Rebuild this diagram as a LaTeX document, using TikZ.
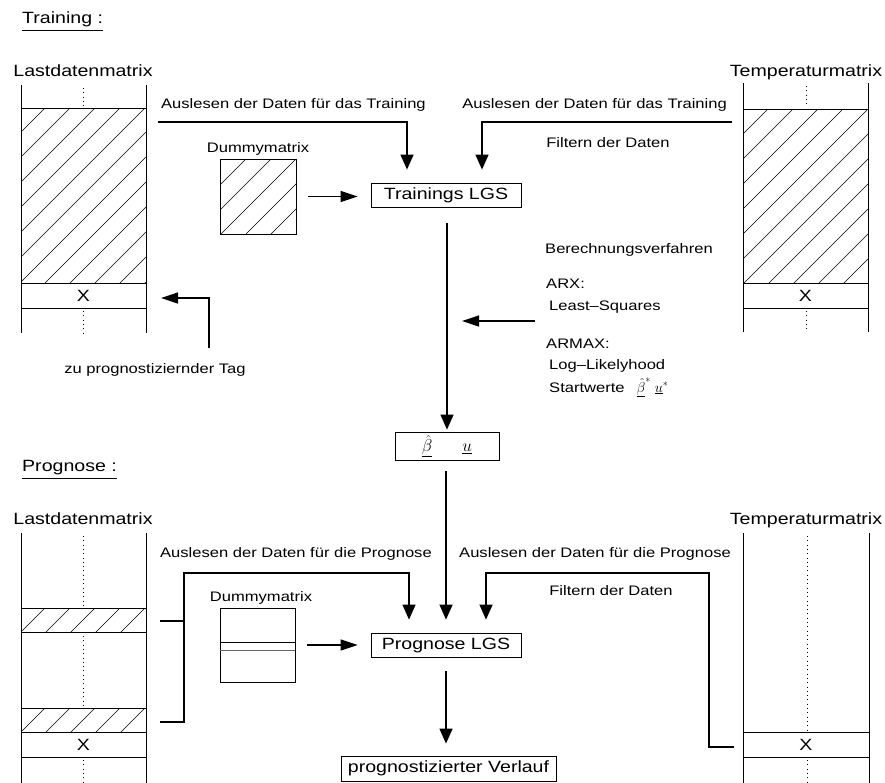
\documentclass[tikz,border=0pt]{standalone}
\usepackage{fontspec}
\setmainfont[FakeStretch=1.2]{Liberation Sans}
\usetikzlibrary{arrows.meta}
\newcommand\hatchrect[5]{%
  \begin{scope}
    \clip (#1,#2) rectangle (#3,#4);
    \foreach \k in {-20,...,20}{
      \pgfmathsetmacro\C{#5+25*\k}
      \draw[hatchln] (\C-#2+5,#2-5) -- (\C-#4-5,#4+5);
    }
  \end{scope}}
\begin{document}
\begin{tikzpicture}[x=1pt,y=-1pt,
  big/.style={font=\fontsize{16.3}{19}\selectfont, inner sep=0pt},
  small/.style={font=\fontsize{13.8}{16}\selectfont, inner sep=0pt},
  mline/.style={line width=0.8pt},
  dotl/.style={line width=0.9pt, dash pattern=on 0.9pt off 3.4pt},
  hatchln/.style={line width=0.6pt},
  box/.style={draw, line width=0.8pt, inner sep=0pt},
  conn/.style={line width=1.3pt},
  va/.style={conn, -{Triangle[length=15pt,width=13pt]}},
  ha/.style={conn, -{Triangle[length=17pt,width=11pt]}},
]
\useasboundingbox (0,0) rectangle (885,782);

% ================= TRAINING =================
\node[big, anchor=base west] (trn) at (22,23) {Training :};
\draw[line width=0.8pt] ([yshift=-7pt]trn.base west) -- ([yshift=-7pt]trn.base east);

\node[big, anchor=base] (ldT) at (83,76) {Lastdatenmatrix};
\node[big, anchor=base] (tmT) at (806,76) {Temperaturmatrix};

% left matrix (training)
\hatchrect{21}{108}{146}{283}{153}
\draw[mline] (21,85) -- (21,333) (146,85) -- (146,333);
\draw[mline] (21,108) -- (146,108) (21,283) -- (146,283) (21,308) -- (146,308);
\draw[dotl] (83.5,88) -- (83.5,106) (83.5,311) -- (83.5,333);
\node[big] (xLT) at (83.5,295.5) {X};

% right matrix (training)
\hatchrect{743}{109}{868}{283}{877}
\draw[mline] (743,83) -- (743,332) (868,83) -- (868,332);
\draw[mline] (743,109) -- (868,109) (743,283) -- (868,283) (743,308) -- (868,308);
\draw[dotl] (806,86) -- (806,107) (806,311) -- (806,332);
\node[big] (xRT) at (805.5,295.5) {X};

% dummy matrix (training)
\node[small, anchor=base] (dumTl) at (258,152) {Dummymatrix};
\hatchrect{220}{159}{296}{234}{405}
\node[box, minimum width=76pt, minimum height=75pt] (dumT) at (258,196.5) {};

% labels
\node[small, anchor=base west] (ausLT) at (161,108) {Auslesen der Daten für das Training};
\node[small, anchor=base east] (ausRT) at (727,108) {Auslesen der Daten für das Training};
\node[small, anchor=base] (filT) at (608,147) {Filtern der Daten};

% boxes
\node[box, big, minimum width=150pt, minimum height=24pt] (trT) at (446,195) {Trainings LGS};
\node[box, font=\fontsize{16}{18}\selectfont, minimum width=104pt, minimum height=28pt] (beta) at (447,446)
  {$\underline{\hat\beta}$\hspace{30pt}$\underline{u}$};

% method text
\node[small, anchor=base west] (ber) at (545,253) {Berechnungsverfahren};
\node[small, anchor=base west] (arx) at (546,288) {ARX:};
\node[small, anchor=base west] (lsq) at (549,310) {Least--Squares};
\node[small, anchor=base west] (armax) at (546,348) {ARMAX:};
\node[small, anchor=base west] (llh) at (549,369) {Log--Likelyhood};
\node[small, anchor=base west] (stw) at (549,392)
  {Startwerte\hspace{12pt}$\underline{\hat\beta}^{*}$\hspace{4pt}$\underline{u}^{*}$};

\node[small, anchor=base] (zpt) at (155,373) {zu prognostiziernder Tag};

% connectors (training)
\coordinate (a1s) at (158,122);
\coordinate (a1c) at (407,122);
\draw[va, shorten >=13pt] (a1s) -- (a1c) -- (a1c |- trT.north);
\coordinate (a2s) at (732,122);
\coordinate (a2c) at (482,122);
\draw[va, shorten >=13pt] (a2s) -- (a2c) -- (a2c |- trT.north);
\draw[ha, shorten <=12pt, shorten >=13pt] (dumT.east) -- (dumT.east -| trT.west);
\draw[va, shorten <=16pt, shorten >=2pt] (beta.north |- trT.south) -- (beta.north);
\coordinate (bers) at (535,321);
\draw[ha, shorten >=15pt] (bers) -- (bers -| beta.north);
\coordinate (zs) at (209,348);
\coordinate (zc) at (209,298);
\coordinate (zt) at (146,298);
\draw[ha, shorten >=15pt] (zs) -- (zc) -- (zt);

% ================= PROGNOSE =================
\node[big, anchor=base west] (prn) at (22,471) {Prognose :};
\draw[line width=0.8pt] ([yshift=-7pt]prn.base west) -- ([yshift=-7pt]prn.base east);

\node[big, anchor=base] (ldP) at (83,524) {Lastdatenmatrix};
\node[big, anchor=base] (tmP) at (806,524) {Temperaturmatrix};

% left matrix (prognose)
\hatchrect{21}{608}{146}{632}{653}
\hatchrect{21}{708}{146}{732}{753}
\draw[mline] (21,533) -- (21,785) (146,533) -- (146,785);
\draw[mline] (21,608) -- (146,608) (21,632) -- (146,632)
             (21,708) -- (146,708) (21,732) -- (146,732) (21,757) -- (146,757);
\draw[dotl] (83.5,536) -- (83.5,606) (83.5,636) -- (83.5,706) (83.5,760) -- (83.5,782);
\node[big] (xLP) at (83.5,744.5) {X};

% right matrix (prognose)
\draw[mline] (743,533) -- (743,785) (869,533) -- (869,785);
\draw[mline] (743,732) -- (869,732) (743,757) -- (869,757);
\draw[dotl] (807,536) -- (807,730) (807,760) -- (807,782);
\node[big] (xRP) at (806,744.5) {X};

% dummy matrix (prognose)
\node[small, anchor=base] (dumPl) at (261,601) {Dummymatrix};
\node[box, minimum width=75pt, minimum height=74pt] (dumP) at (257.5,645) {};
\draw[mline] (dumP.west |- 0,642) -- (dumP.east |- 0,642);
\draw[mline, black!60] (dumP.west |- 0,650) -- (dumP.east |- 0,650);

% labels
\node[small, anchor=base west] (ausLP) at (160,557) {Auslesen der Daten für die Prognose};
\node[small, anchor=base east] (ausRP) at (731,557) {Auslesen der Daten für die Prognose};
\node[small, anchor=base] (filP) at (611,595) {Filtern der Daten};

% boxes
\node[box, big, minimum width=150pt, minimum height=24pt] (prg) at (446,645) {Prognose LGS};
\node[box, big, minimum width=215pt, minimum height=25pt] (ver) at (448.5,768.5) {prognostizierter Verlauf};

% connectors (prognose)
\coordinate (b1) at (160,621);
\coordinate (b1j) at (184,621);
\coordinate (b2) at (160,722);
\coordinate (b2j) at (184,722);
\coordinate (bt) at (184,573);
\coordinate (btc) at (409,573);
\draw[conn] (b1) -- (b1j);
\draw[va, shorten >=13pt] (b2) -- (b2j) -- (bt) -- (btc) -- (btc |- prg.north);
\coordinate (r1) at (734,747);
\coordinate (r1c) at (709,747);
\coordinate (r2c) at (709,573);
\coordinate (r3c) at (486,573);
\draw[va, shorten >=13pt] (r1) -- (r1c) -- (r2c) -- (r3c) -- (r3c |- prg.north);
\draw[va, shorten <=11pt, shorten >=13pt] (prg.north |- beta.south) -- (prg.north);
\draw[ha, shorten <=12pt, shorten >=13pt] (dumP.east) -- (dumP.east -| prg.west);
\draw[va, shorten <=14pt, shorten >=12pt] (prg.south) -- (prg.south |- ver.north);
\end{tikzpicture}
\end{document}
